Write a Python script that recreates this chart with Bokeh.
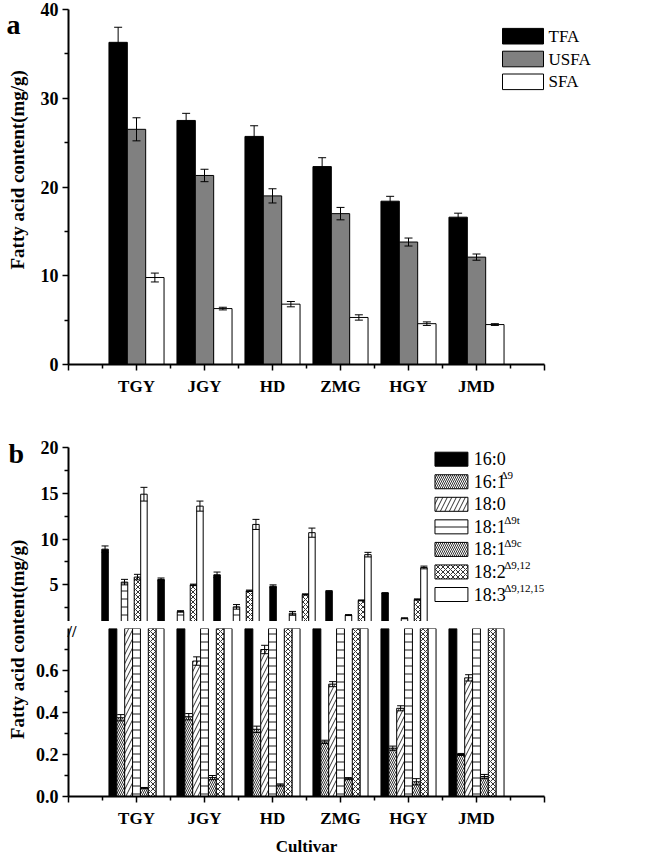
import numpy as np
from bokeh.plotting import figure
from bokeh.models import (Range1d, FixedTicker, Whisker, TeeHead, ColumnDataSource,
                          BoxAnnotation, Label, PrintfTickFormatter, LinearAxis)
from bokeh.layouts import column, row
from bokeh.embed import file_html
from bokeh.resources import INLINE

# ---------------- data ----------------
cultivars = ["TGY", "JGY", "HD", "ZMG", "HGY", "JMD"]

# panel a
tfa = [36.3, 27.5, 25.7, 22.3, 18.4, 16.6]
tfa_err = [1.7, 0.8, 1.2, 1.0, 0.55, 0.45]
usfa = [26.5, 21.3, 19.0, 17.0, 13.8, 12.1]
usfa_err = [1.3, 0.7, 0.8, 0.7, 0.45, 0.35]
sfa = [9.8, 6.3, 6.8, 5.3, 4.6, 4.5]
sfa_err = [0.5, 0.15, 0.3, 0.3, 0.2, 0.1]
a_names = ["TFA", "USFA", "SFA"]

# panel b
fa16_0 = [8.9, 5.6, 6.1, 4.85, 4.3, 4.1]
fa16_0_err = [0.35, 0.15, 0.3, 0.15, 0.07, 0.05]
fa16_1 = [0.375, 0.38, 0.32, 0.26, 0.23, 0.20]
fa16_1_err = [0.015, 0.015, 0.015, 0.008, 0.01, 0.005]
fa18_0 = [0.9, 0.645, 0.70, 0.535, 0.42, 0.565]
fa18_0_err = [0.02, 0.02, 0.02, 0.012, 0.012, 0.015]
fa18_1t = [5.3, 2.1, 2.6, 1.9, 1.7, 1.35]
fa18_1t_err = [0.3, 0.08, 0.25, 0.2, 0.05, 0.05]
fa18_1c = [0.04, 0.09, 0.055, 0.085, 0.07, 0.095]
fa18_1c_err = [0.003, 0.01, 0.005, 0.005, 0.015, 0.01]
fa18_2 = [5.85, 5.0, 4.35, 3.95, 3.3, 3.4]
fa18_2_err = [0.3, 0.08, 0.08, 0.07, 0.05, 0.07]
fa18_3 = [14.9, 13.6, 11.6, 10.7, 8.3, 6.9]
fa18_3_err = [0.75, 0.55, 0.55, 0.5, 0.25, 0.15]
b_names = [("16:0", ""), ("16:1", "\u03949"), ("18:0", ""), ("18:1 ", "\u03949t"),
           ("18:1 ", "\u03949c"), ("18:2 ", "\u03949,12"), ("18:3 ", "\u03949,12,15")]

a_ticks = [0, 10, 20, 30, 40]
b_hi_ticks = [5, 10, 15, 20]
b_lo_ticks = [0, 0.2, 0.4, 0.6]
BREAK_LO, BREAK_HI = 0.8, 1.0
Y_TITLE = "Fatty acid content(mg/g)"

SERIF = "Liberation Serif"
xs = np.arange(1, len(cultivars) + 1)


def style_axis(ax, size="18px"):
    ax.axis_line_width = 2
    ax.axis_line_color = "black"
    ax.major_tick_line_width = 1.5
    ax.minor_tick_line_width = 1.5
    ax.major_tick_line_color = "black"
    ax.minor_tick_line_color = "black"
    ax.major_tick_out = 6
    ax.major_tick_in = 0
    ax.minor_tick_out = 4
    ax.minor_tick_in = 0
    ax.major_label_text_font = SERIF
    ax.major_label_text_font_style = "bold"
    ax.major_label_text_font_size = size
    ax.major_label_text_color = "black"
    ax.major_label_standoff = 4
    ax.axis_label_text_font = SERIF
    ax.axis_label_text_font_style = "bold"
    ax.axis_label_text_font_size = "17px"
    ax.axis_label_text_color = "black"


def style_x(ax):
    style_axis(ax, size="17px")
    ax.ticker = FixedTicker(ticks=list(range(0, 8)), minor_ticks=[i + 0.5 for i in range(7)])
    ov = {i + 1: n for i, n in enumerate(cultivars)}
    ov[0] = ""
    ov[7] = ""
    ax.major_label_overrides = ov
    ax.bounds = (0, 7)
    ax.major_label_standoff = 6


def base_fig(**kw):
    p = figure(output_backend="svg", toolbar_location=None, **kw)
    p.grid.visible = False
    p.outline_line_color = None
    return p


def side_fig(height):
    t = figure(width=30, height=height, x_range=Range1d(0, 30), y_range=Range1d(0, height),
               output_backend="svg", toolbar_location=None, min_border=0,
               x_axis_location=None, y_axis_location=None)
    t.grid.visible = False
    t.outline_line_color = None
    return t


def whisk(p, src, size):
    w = Whisker(source=src, base="x", upper="upper", lower="lower", line_color="black",
                line_width=1, level="overlay",
                upper_head=TeeHead(size=size, line_color="black", line_width=1),
                lower_head=TeeHead(size=size, line_color="black", line_width=1))
    p.add_layout(w)


def lbl(p, x, y, text, size="17px", style="normal", **kw):
    p.add_layout(Label(x=x, y=y, text=text, text_font=SERIF, text_font_size=size,
                       text_font_style=style, text_color="black", **kw))


# ---------------- panel a (page y 0..434, frame 9..364) ----------------
pa = base_fig(width=616, height=434, x_range=Range1d(0, 8), y_range=Range1d(0, 40),
              min_border_left=38, min_border_right=34, min_border_top=9, min_border_bottom=70)
style_x(pa.xaxis[0])
style_axis(pa.yaxis[0])
pa.yaxis[0].ticker = FixedTicker(ticks=a_ticks, minor_ticks=[5, 15, 25, 35])

BW_A = 0.27
a_series = [(tfa, tfa_err, "black"), (usfa, usfa_err, "#808080"), (sfa, sfa_err, "white")]
for i, (vals, errs, col) in enumerate(a_series):
    v = np.array(vals)
    e = np.array(errs)
    src = ColumnDataSource(dict(x=xs + (i - 1) * BW_A, top=v, upper=v + e, lower=v - e))
    pa.vbar(x="x", top="top", bottom=0, width=BW_A, source=src, fill_color=col,
            line_color="black", line_width=1)
    whisk(pa, src, 8)


def ax_a(px):
    return (px - 68) / 68.0


def ay_a(py):
    return (364 - py) / 8.875


for i, (name, (_, _, col)) in enumerate(zip(a_names, a_series)):
    cy = 35.7 + i * 22.8
    pa.add_layout(BoxAnnotation(left=ax_a(502), right=ax_a(543), bottom=ay_a(cy + 7.8),
                                top=ay_a(cy - 7.8), fill_color=col, fill_alpha=1,
                                line_color="black", line_alpha=1, line_width=1, level="overlay"))
    lbl(pa, ax_a(548), ay_a(cy), name, text_baseline="middle")

ta = side_fig(434)
lbl(ta, 6, 434 - 18, "a", size="28px", style="bold", text_baseline="alphabetic")
lbl(ta, 17, 434 - 196, Y_TITLE, size="19px", style="bold",
    angle=np.pi / 2, text_align="center", text_baseline="middle")

# ---------------- panel b ----------------
BW_B = 0.81 / 7
b_series = [
    (fa16_0, fa16_0_err, dict(fill_color="black")),
    (fa16_1, fa16_1_err, dict(fill_color="white", hatch_pattern="left_diagonal_line",
                              hatch_scale=4, hatch_weight=0.8, hatch_color="black")),
    (fa18_0, fa18_0_err, dict(fill_color="white", hatch_pattern="right_diagonal_line",
                              hatch_scale=9, hatch_weight=0.8, hatch_color="black")),
    (fa18_1t, fa18_1t_err, dict(fill_color="white", hatch_pattern="horizontal_line",
                                hatch_scale=8, hatch_weight=0.9, hatch_color="black")),
    (fa18_1c, fa18_1c_err, dict(fill_color="white", hatch_pattern="left_diagonal_line",
                                hatch_scale=4, hatch_weight=0.8, hatch_color="black")),
    (fa18_2, fa18_2_err, dict(fill_color="white", hatch_pattern="diagonal_cross",
                              hatch_scale=5, hatch_weight=0.8, hatch_color="black")),
    (fa18_3, fa18_3_err, dict(fill_color="white")),
]

# upper segment: page y 434..621, frame 447..621
pu = base_fig(width=616, height=187, x_range=Range1d(0, 8.5), y_range=Range1d(BREAK_HI, 20),
              min_border_left=38, min_border_right=0, min_border_top=13, min_border_bottom=0,
              x_axis_location=None)
style_axis(pu.yaxis[0])
pu.yaxis[0].ticker = FixedTicker(ticks=b_hi_ticks, minor_ticks=[2.5, 7.5, 12.5, 17.5])

# lower segment: page y 621..858, frame 628..802
pl = base_fig(width=616, height=237, x_range=Range1d(0, 7), y_range=Range1d(0, BREAK_LO),
              min_border_left=38, min_border_right=102, min_border_top=7, min_border_bottom=56)
style_x(pl.xaxis[0])
pl.xaxis[0].axis_label = "Cultivar"
pl.xaxis[0].axis_label_standoff = 6
style_axis(pl.yaxis[0])
pl.yaxis[0].ticker = FixedTicker(ticks=b_lo_ticks, minor_ticks=[0.1, 0.3, 0.5, 0.7])
pl.yaxis[0].formatter = PrintfTickFormatter(format="%.1f")

# axis-break mark, drawn as the label of an invisible extra axis
brk = LinearAxis(ticker=FixedTicker(ticks=[BREAK_LO]), major_label_overrides={BREAK_LO: "//"},
                 axis_line_color=None, major_tick_line_color=None, minor_tick_line_color=None,
                 major_tick_out=0, minor_tick_out=0, major_label_standoff=-44,
                 major_label_text_font=SERIF, major_label_text_font_style="bold",
                 major_label_text_font_size="16px", major_label_text_color="black")
pl.add_layout(brk, "left")

for i, (vals, errs, sty) in enumerate(b_series):
    v = np.array(vals)
    e = np.array(errs)
    x = xs + (i - 3) * BW_B
    src = ColumnDataSource(dict(x=x, top=v))
    for p in (pu, pl):
        p.vbar(x="x", top="top", bottom=0, width=BW_B, source=src, line_color="black",
               line_width=1, **sty)
    hi = v - e > BREAK_HI
    if hi.any():
        whisk(pu, ColumnDataSource(dict(x=x[hi], upper=(v + e)[hi], lower=(v - e)[hi])), 7)
    lo = v + e < BREAK_LO
    if lo.any():
        whisk(pl, ColumnDataSource(dict(x=x[lo], upper=(v + e)[lo], lower=(v - e)[lo])), 7)


def bx(px):
    return (px - 68) / 68.0


def by(py):
    return 20 - (py - 447) * 19 / 174.0


for i, ((main, sup), (_, _, sty)) in enumerate(zip(b_names, b_series)):
    cy = 458.7 + i * 22.55
    pu.add_layout(BoxAnnotation(left=bx(513), right=bx(553), bottom=by(cy + 7), top=by(cy - 7),
                                fill_alpha=1, line_color="black", line_alpha=1, line_width=1,
                                level="overlay", **sty))
    lbl(pu, bx(560), by(cy), main, size="18px", text_baseline="middle")
    if sup:
        w = 18 * (1.778 + (0.25 if main.endswith(" ") else 0.0))
        lbl(pu, bx(560 + w + 0.5), by(cy - 6.5), sup, size="11px", text_baseline="middle")

tb = side_fig(424)
lbl(tb, 8, 858 - 453, "b", size="28px", style="bold", text_baseline="alphabetic")
lbl(tb, 17, 858 - 639, Y_TITLE, size="19px", style="bold",
    angle=np.pi / 2, text_align="center", text_baseline="middle")

layout = column(row(ta, pa), row(tb, column(pu, pl)))
open("out.html", "w").write(file_html(layout, INLINE))
